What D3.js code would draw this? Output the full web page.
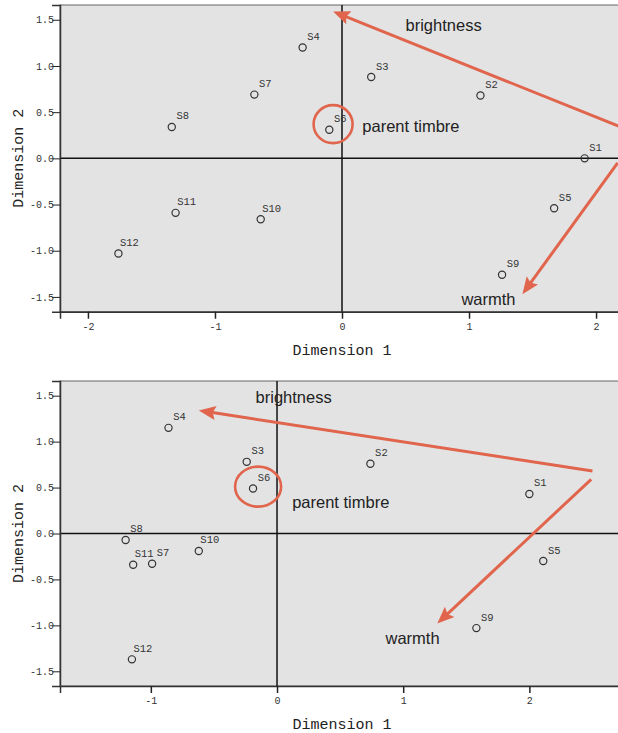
<!DOCTYPE html>
<html>
<head>
<meta charset="utf-8">
<script src="https://cdn.jsdelivr.net/npm/d3@7"></script>
<style>
  body { margin: 0; background: #fff; }
  svg { display: block; }
</style>
</head>
<body>
<svg id="chart" width="618" height="733"></svg>
<script>
// stimulus labels
const names = ["S1", "S2", "S3", "S4", "S5", "S6", "S7", "S8", "S9", "S10", "S11", "S12"];

// upper map
const dim1Top = [1.91, 1.09, 0.23, -0.31, 1.67, -0.10, -0.69, -1.34, 1.26, -0.64, -1.31, -1.76];
const dim2Top = [0.00, 0.68, 0.88, 1.20, -0.54, 0.31, 0.69, 0.34, -1.26, -0.66, -0.59, -1.03];

// lower map
const dim1Bottom = [2.00, 0.74, -0.24, -0.86, 2.11, -0.19, -0.99, -1.20, 1.58, -0.62, -1.14, -1.15];
const dim2Bottom = [0.43, 0.76, 0.78, 1.15, -0.30, 0.49, -0.33, -0.07, -1.03, -0.19, -0.34, -1.37];

const xTicksTop = [-2, -1, 0, 1, 2];
const xTicksBottom = [-1, 0, 1, 2];
const yTicks = [-1.5, -1.0, -0.5, 0.0, 0.5, 1.0, 1.5];

// annotations, in data units: [x1, y1, x2(tip), y2(tip)]
const arrowsTop = [[2.21, 0.33, -0.07, 1.59], [2.17, -0.05, 1.42, -1.47]];
const arrowsBottom = [[2.50, 0.68, -0.62, 1.34], [2.49, 0.59, 1.27, -0.98]];
const notesTop = [["brightness", 0.50, 1.38], ["parent timbre", 0.16, 0.29], ["warmth", 0.94, -1.59]];
const notesBottom = [["brightness", -0.17, 1.42], ["parent timbre", 0.12, 0.28], ["warmth", 0.86, -1.20]];
const ringTop = [-0.07, 0.37];
const ringBottom = [-0.15, 0.51];

const RED = "#e0654c";
const mono = "'Liberation Mono', 'DejaVu Sans Mono', monospace";
const sans = "'Liberation Sans', Arial, sans-serif";

const svg = d3.select("#chart");

// arrow head: 17px long, shaft stops 9px before the tip
const HEAD = 17, SHORT = 9;
svg.append("defs").append("marker")
  .attr("id", "head")
  .attr("markerUnits", "userSpaceOnUse")
  .attr("viewBox", `0 -8 ${HEAD} 16`)
  .attr("markerWidth", HEAD)
  .attr("markerHeight", 16)
  .attr("refX", HEAD - SHORT)
  .attr("refY", 0)
  .attr("orient", "auto")
  .append("path")
  .attr("d", `M0,-7L${HEAD},0L0,7L3,0Z`)
  .attr("fill", RED);

const drawPanel = (cfg) => {
  const margin = { left: 60, right: 624 };

  const x = d3.scaleLinear().domain(cfg.xDomain).range([margin.left, margin.right]);
  const y = d3.scaleLinear().domain([-1.66, 1.66]).range([cfg.bottom, cfg.top]);

  const g = svg.append("g");

  // plot background + frame
  g.append("rect")
    .attr("x", margin.left)
    .attr("y", cfg.top)
    .attr("width", margin.right - margin.left)
    .attr("height", cfg.bottom - cfg.top)
    .attr("fill", "#e3e3e3")
    .attr("stroke", "#666")
    .attr("stroke-width", 1);

  // zero lines
  g.append("line")
    .attr("x1", x(0)).attr("x2", x(0))
    .attr("y1", cfg.top).attr("y2", cfg.bottom)
    .attr("stroke", "#111").attr("stroke-width", 1.5);
  g.append("line")
    .attr("x1", margin.left).attr("x2", margin.right)
    .attr("y1", y(0)).attr("y2", y(0))
    .attr("stroke", "#111").attr("stroke-width", 1.5);

  // axes
  g.append("g")
    .attr("transform", `translate(0,${cfg.bottom})`)
    .call(d3.axisBottom(x).tickValues(cfg.xTicks).tickSize(7).tickPadding(4).tickFormat((d) => String(d)))
    .call((a) => a.select(".domain").attr("stroke", "#333").attr("stroke-width", 1.5))
    .call((a) => a.selectAll(".tick line").attr("stroke", "#222").attr("stroke-width", 1.5))
    .call((a) => a.selectAll(".tick text").attr("font-family", mono).attr("font-size", 10).attr("fill", "#333"));

  g.append("g")
    .attr("transform", `translate(${margin.left},0)`)
    .call(d3.axisLeft(y).tickValues(yTicks).tickSize(8).tickPadding(-2).tickFormat((d) => d.toFixed(1)))
    .call((a) => a.select(".domain").attr("stroke", "#333").attr("stroke-width", 1.5))
    .call((a) => a.selectAll(".tick line").attr("stroke", "#222").attr("stroke-width", 1))
    .call((a) => a.selectAll(".tick text").attr("font-family", mono).attr("font-size", 10).attr("fill", "#333"));

  // axis titles
  g.append("text")
    .attr("x", (margin.left + margin.right) / 2)
    .attr("y", cfg.bottom + 43)
    .attr("text-anchor", "middle")
    .attr("font-family", mono)
    .attr("font-size", 15)
    .attr("fill", "#222")
    .text("Dimension 1");

  g.append("text")
    .attr("transform", `translate(23,${(cfg.top + cfg.bottom) / 2}) rotate(-90)`)
    .attr("text-anchor", "middle")
    .attr("font-family", mono)
    .attr("font-size", 15)
    .attr("fill", "#222")
    .text("Dimension 2");

  // points
  const pts = names.map((n, i) => ({ name: n, d1: cfg.dim1[i], d2: cfg.dim2[i] }));

  g.append("g")
    .selectAll("circle")
    .data(pts)
    .join("circle")
    .attr("cx", (d) => x(d.d1))
    .attr("cy", (d) => y(d.d2))
    .attr("r", 3.6)
    .attr("fill", "none")
    .attr("stroke", "#333")
    .attr("stroke-width", 1.2);

  g.append("g")
    .selectAll("text")
    .data(pts)
    .join("text")
    .attr("x", (d) => x(d.d1) + 11)
    .attr("y", (d) => y(d.d2) - 7.5)
    .attr("text-anchor", "middle")
    .attr("font-family", mono)
    .attr("font-size", 10.5)
    .attr("fill", "#333")
    .text((d) => d.name);

  // annotations
  g.append("ellipse")
    .attr("cx", x(cfg.ring[0]))
    .attr("cy", y(cfg.ring[1]))
    .attr("rx", cfg.ringR[0])
    .attr("ry", cfg.ringR[1])
    .attr("fill", "none")
    .attr("stroke", RED)
    .attr("stroke-width", 2.6);

  g.append("g")
    .selectAll("line")
    .data(cfg.arrows)
    .join("line")
    .each(function (a) {
      const x1 = x(a[0]), y1 = y(a[1]), x2 = x(a[2]), y2 = y(a[3]);
      const len = Math.hypot(x2 - x1, y2 - y1);
      // stop the shaft short so it hides under the head
      const k = (len - SHORT) / len;
      d3.select(this)
        .attr("x1", x1).attr("y1", y1)
        .attr("x2", x1 + (x2 - x1) * k).attr("y2", y1 + (y2 - y1) * k);
    })
    .attr("stroke", RED)
    .attr("stroke-width", 3)
    .attr("marker-end", "url(#head)");

  g.append("g")
    .selectAll("text")
    .data(cfg.notes)
    .join("text")
    .attr("x", (d) => x(d[1]))
    .attr("y", (d) => y(d[2]))
    .attr("font-family", sans)
    .attr("font-size", 16.5)
    .attr("fill", "#222")
    .text((d) => d[0]);
};

drawPanel({
  top: 5, bottom: 311.7,
  xDomain: [-2.22, 2.22], xTicks: xTicksTop,
  dim1: dim1Top, dim2: dim2Top,
  arrows: arrowsTop, notes: notesTop,
  ring: ringTop, ringR: [19.5, 19]
});

drawPanel({
  top: 381, bottom: 686,
  xDomain: [-1.72, 2.75], xTicks: xTicksBottom,
  dim1: dim1Bottom, dim2: dim2Bottom,
  arrows: arrowsBottom, notes: notesBottom,
  ring: ringBottom, ringR: [23, 20]
});
</script>
</body>
</html>
